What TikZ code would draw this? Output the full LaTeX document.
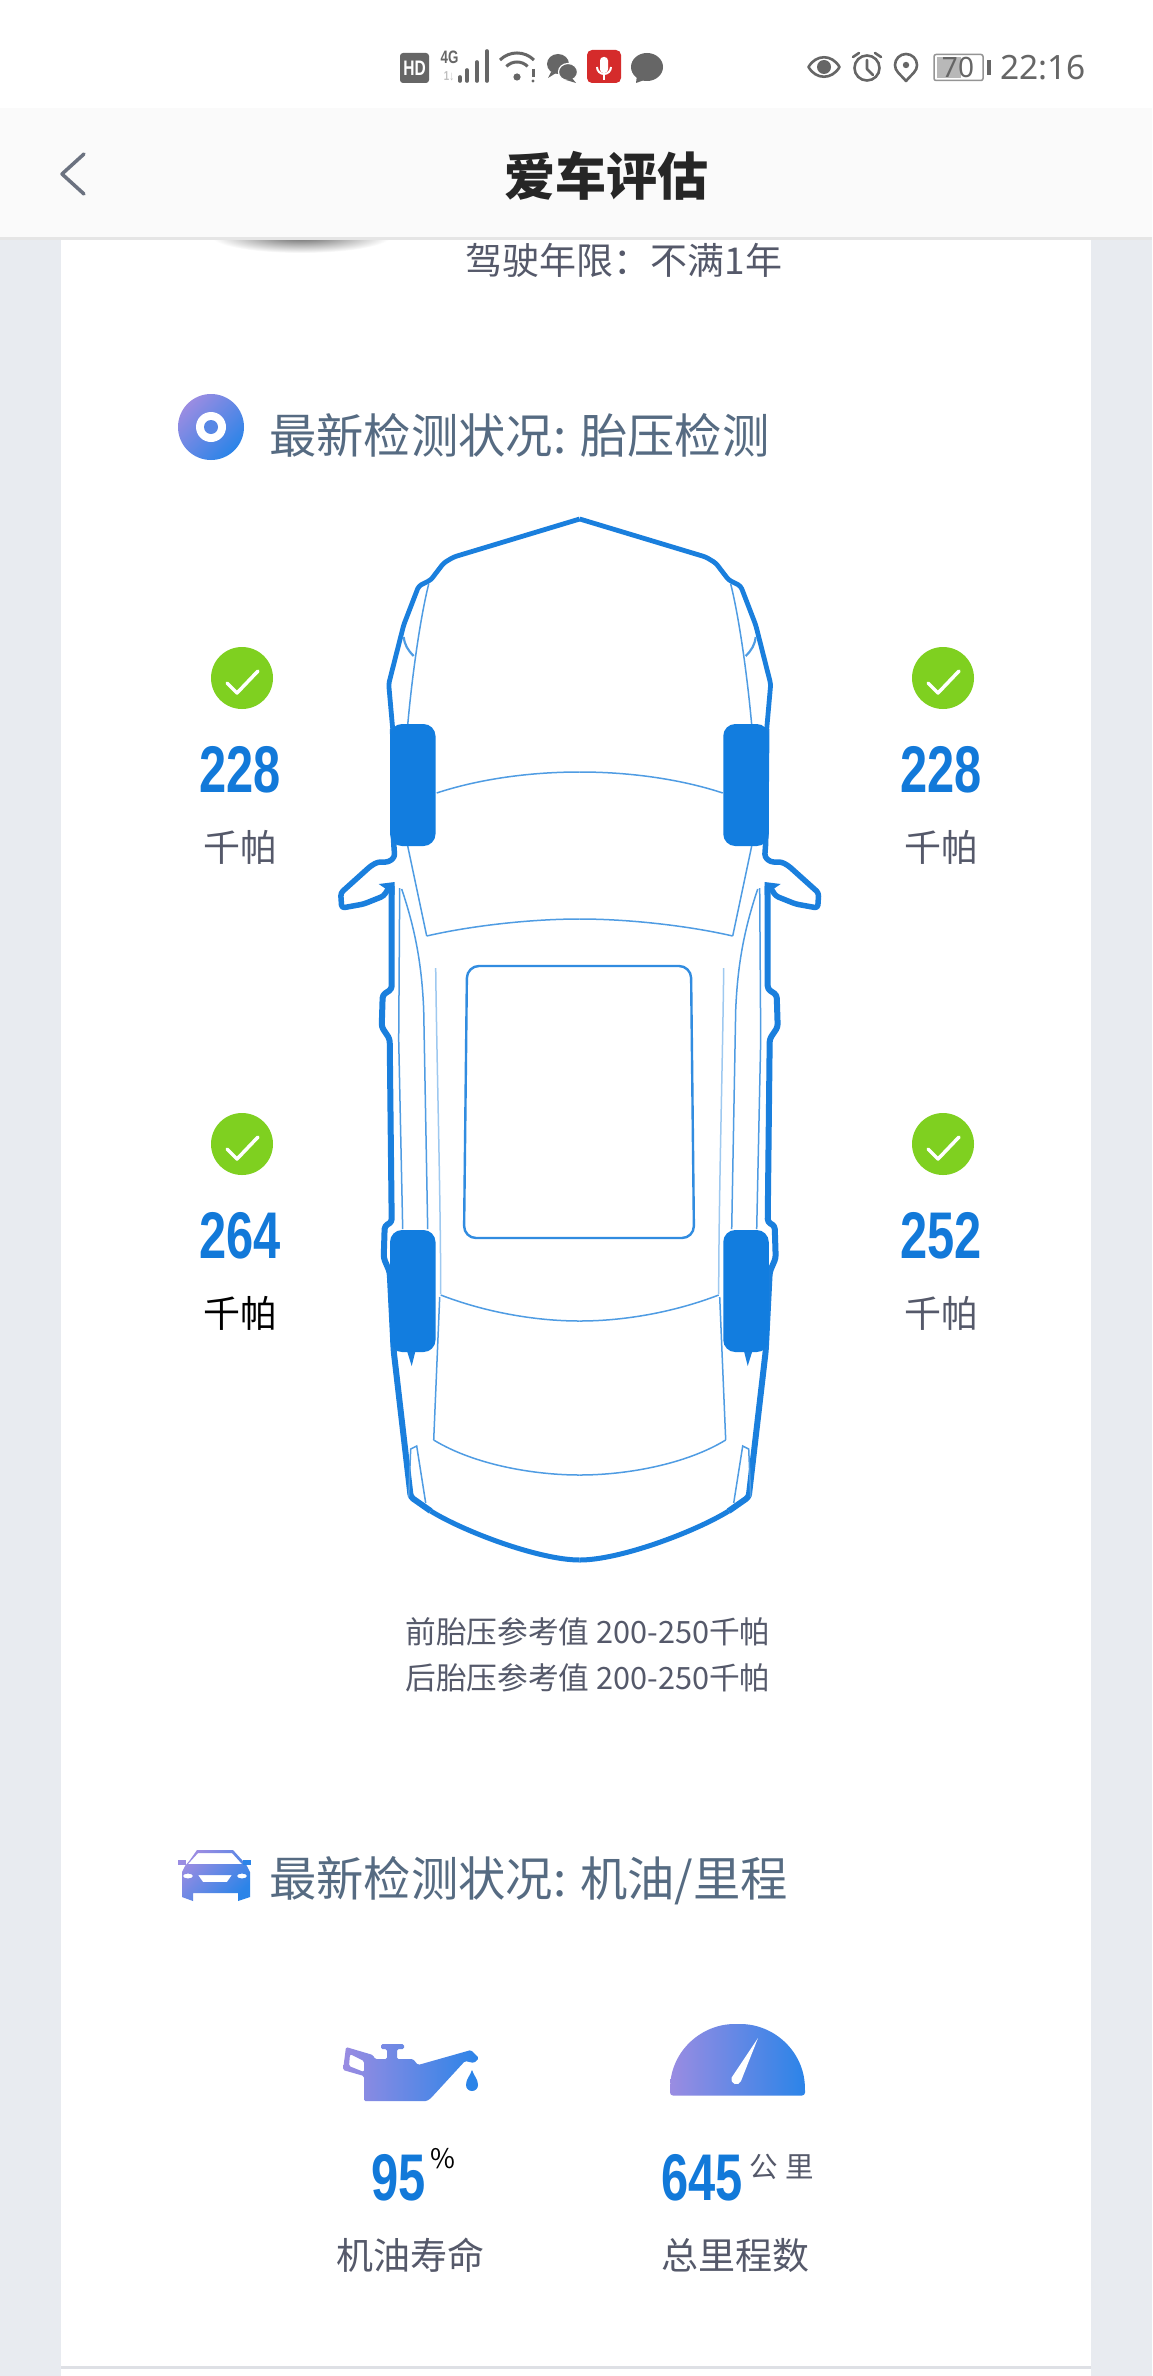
\documentclass[tikz,border=0pt]{standalone}
\usepackage{fontspec}
\setmainfont{Noto Sans CJK SC}
\newfontfamily\numfont[FakeStretch=0.74]{Liberation Sans}
\newfontfamily\barfont{Noto Sans}
\usetikzlibrary{shapes.geometric, positioning, calc}
\newcommand{\fsize}[1]{\fontsize{#1}{#1}\selectfont}
\definecolor{pagegray}{HTML}{E8EBF0}
\definecolor{navfill}{HTML}{FAFAFA}
\definecolor{carblue}{HTML}{1A7FDD}
\definecolor{tyreblue}{HTML}{127DDF}
\definecolor{thinblue}{HTML}{4F9CE3}
\definecolor{numblue}{HTML}{1279D9}
\definecolor{headgray}{HTML}{566B82}
\definecolor{textgray}{HTML}{55596A}
\definecolor{okgreen}{HTML}{7FD020}
\definecolor{gradA}{HTML}{9A8CE2}
\definecolor{gradB}{HTML}{2B84E8}
\definecolor{iconrgray}{HTML}{666666}
\definecolor{backgray}{HTML}{6B7280}
\definecolor{micred}{HTML}{D52B2B}

\begin{document}
\begin{tikzpicture}[x=1pt,y=-1pt,
        % Define node styles
        sectitle/.style={anchor=west, inner sep=0pt, text=headgray, font=\fsize{47.3}},
        plaintext/.style={inner sep=0pt, text=textgray, font=\fsize{37}},
        noteline/.style={inner sep=0pt, text=textgray, font=\fsize{30.7}},
        tireval/.style={inner sep=0pt, text=numblue, font=\numfont\bfseries\fsize{66}},
        tireunit/.style={inner sep=0pt, font=\fsize{37}},
        okdot/.style={circle, fill=okgreen, minimum size=62pt, inner sep=0pt},
        okmark/.style={draw=white, line width=3.5pt, line cap=round, line join=round},
        tyre/.style={rectangle, fill=tyreblue, rounded corners=12pt, minimum width=45.5pt, minimum height=122pt, inner sep=0pt},
        outline/.style={draw=carblue, line join=round, rounded corners=3pt},
        thinline/.style={draw=thinblue, line width=1.5pt},
        paleline/.style={draw=thinblue!55, line width=1.5pt},
        gradfill/.style={left color=gradA, right color=gradB},
        iconfill/.style={fill=iconrgray},
        iconline/.style={draw=iconrgray, line width=2.6pt}
    ]
    \useasboundingbox (0,0) rectangle (1152,2376);

    % Page background
    \fill[white] (0,0) rectangle (1152,2376);
    \fill[pagegray] (0,238) rectangle (1152,2376);
    \fill[white] (61,238) rectangle (1091,2376);
    \fill[pagegray!90!gray] (61,2366) rectangle (1091,2369);

    % Shadow under the navigation bar
    \shade[inner color=black!62, outer color=white] (301,236) ellipse (90 and 17);

    % Navigation bar
    \fill[navfill] (0,108) rectangle (1152,237);
    \fill[black!10] (0,237) rectangle (1152,240);
    \draw[draw=backgray, line width=3.5pt, line cap=round, line join=round] (84,154) -- (62,174) -- (84,194);
    \node[inner sep=0pt, text=black!85, font=\bfseries\fsize{51}] (title) at (606,176) {爱车评估};

    % Status bar, left group
    \fill[iconfill, rounded corners=3pt] (400,53) rectangle (429,83);
    \node[inner sep=0pt, text=white, font=\numfont\bfseries\fsize{21}] (hd) at (414.5,68) {HD};
    \node[inner sep=0pt, text=iconrgray, font=\numfont\bfseries\fsize{18}] (fourg) at (449.5,57) {4G};
    \node[inner sep=0pt, text=black!25, font=\numfont\bfseries\fsize{13}] (onedown) at (449,76) {1↓};
    \foreach \bx/\by in {460/77, 467/70, 477/62, 487/51}
        \draw[draw=iconrgray, line width=3.6pt, line cap=round] (\bx,\by) -- (\bx,81);
    \fill[iconfill] (517,77) circle (3.6);
    \draw[iconline, line width=3pt] (500,60) arc[start angle=-135, end angle=-45, radius=24];
    \draw[iconline, line width=3pt] (506.4,66.4) arc[start angle=-135, end angle=-45, radius=15];
    \draw[draw=iconrgray, line width=3pt] (533,69) -- (533,77);
    \fill[iconfill] (533,81) circle (1.6);
    \fill[iconfill] (558,64) ellipse (11 and 10);
    \fill[iconfill] (551,72) -- (548,78) -- (556,73) -- cycle;
    \filldraw[draw=white, fill=iconrgray, line width=1.2pt] (568,72) ellipse (9.5 and 8.5);
    \fill[iconfill] (572,78) -- (576,83) -- (566,80) -- cycle;
    \fill[micred, rounded corners=5pt] (587,50) rectangle (621,83);
    \fill[white, rounded corners=3.5pt] (600,57) rectangle (608,73);
    \draw[draw=white, line width=2pt] (597,67) arc[start angle=180, end angle=0, radius=7];
    \draw[draw=white, line width=2pt] (604,74) -- (604,80);
    \fill[iconfill] (647,67) ellipse (16 and 14);
    \fill[iconfill] (637,75) -- (636,83) -- (647,79) -- cycle;

    % Status bar, right group
    \draw[iconline, line join=round] (808.5,67) .. controls (816,54) and (832,54) .. (839.5,67) .. controls (832,80) and (816,80) .. cycle;
    \fill[iconfill] (824,67) circle (7);
    \draw[iconline] (867,68) circle (12.5);
    \draw[iconline, line cap=round, line join=round] (867,60) -- (867,69) -- (873,75);
    \draw[iconline, line cap=round] (853,57) -- (859,53);
    \draw[iconline, line cap=round] (881,57) -- (875,53);
    \draw[iconline, line join=round] (906,81) .. controls (899,73) and (895,71) .. (895,65) arc[start angle=180, end angle=360, radius=11] .. controls (917,71) and (913,73) .. (906,81) -- cycle;
    \fill[iconfill] (906,65) circle (3.2);
    \fill[black!28] (937,57) rectangle (961,78);
    \draw[draw=iconrgray!70, line width=1.5pt, rounded corners=2pt] (934,54.5) rectangle (983,80.5);
    \fill[iconfill] (987,60) rectangle (991,75);
    \node[inner sep=0pt, text=iconrgray, font=\barfont\fsize{28}] (batt) at (958,67) {70};
    \node[inner sep=0pt, text=iconrgray, font=\barfont\fsize{33.5}] (clock) at (1043,68) {22:16};

    % Driver line
    \node[plaintext] (years) at (624,260) {驾驶年限：不满1年};

    % Section title, tyre pressure
    \shade[gradfill, shading angle=45] (211,427) circle (33);
    \fill[white] (211,427) circle (15);
    \fill[gradB!60!gradA] (211,427) circle (7);
    \node[sectitle] (sectyre) at (269,435) {最新检测状况: 胎压检测};

    % Car body, both halves mirrored about the centre line
    \foreach \s in {1,-1} {
        \begin{scope}[shift={(579.7,0)}, xscale=\s]
            % Outer shell
            \draw[outline, line width=4.8pt] (0,519) -- (-126,557) -- (-136,563) -- (-149,580) -- (-161,586) -- (-176,625) -- (-191,684) -- (-187,729);
            \draw[outline, line width=5.5pt] (-187,729) -- (-186,843) -- (-185,857) -- (-191,862) -- (-202,862) -- (-209,866) -- (-239,893) -- (-238,908) -- (-216,904) -- (-196,896) -- (-191,888);
            \fill[carblue] (-201,884) -- (-185,882) -- (-185,895) -- cycle;
            \draw[outline, line width=6pt] (-188,886) -- (-188,989) -- (-197,995) -- (-198,1027) -- (-190,1039) -- (-188,1222) -- (-195,1226) -- (-196,1258) -- (-190,1272) -- (-186,1351) -- (-169,1497) -- (-149,1511);
            \draw[draw=carblue, line width=5pt] (-149,1511) .. controls (-115,1532) and (-40,1560) .. (0,1560);
            % Front lines
            \draw[thinline] (-151,584) .. controls (-160,620) and (-168,680) .. (-172,725);
            \draw[thinline, line width=2.2pt] (-176,637) .. controls (-175,645) and (-172,650) .. (-166,656);
            \draw[thinline] (0,772) .. controls (-60,772) and (-110,782) .. (-143,793);
            \draw[thinline] (-172,846) -- (-153,936);
            \draw[thinline] (-153,936) .. controls (-110,926) and (-50,919) .. (0,919);
            % Side lines
            \draw[thinline] (-180,888) -- (-181,1040) -- (-177,1229);
            \draw[thinline] (-178,889) .. controls (-166,925) and (-158,960) .. (-156,1010) -- (-152,1229);
            \draw[paleline] (-144,968) .. controls (-143,1060) and (-139,1200) .. (-139,1294);
            % Rear lines
            \draw[thinline] (-139,1295) .. controls (-95,1312) and (-45,1321) .. (0,1321);
            \draw[thinline] (-140,1297) -- (-146,1440);
            \draw[thinline] (-146,1440) .. controls (-105,1465) and (-45,1475) .. (0,1475);
            \draw[thinline] (-171,1497) -- (-169,1449) -- (-163,1446) -- (-154,1503);
            \fill[carblue] (-173,1350) -- (-168,1366) -- (-164,1350) -- cycle;
        \end{scope}
    }

    % Sunroof
    \draw[draw=carblue!90, line width=2.4pt, rounded corners=12pt] (467,966) -- (691,966) -- (694,1238) -- (464,1238) -- cycle;

    % Tyres
    \node[tyre] (tirefl) at (412.75,785) {};
    \node[tyre] (tirefr) at (746,785) {};
    \node[tyre] (tirerl) at (412.75,1291) {};
    \node[tyre] (tirerr) at (746,1291) {};

    % Pressure readings
    \foreach \cx/\cy/\val/\nm/\tone in {
        242/678/228/fl/textgray, 943/678/228/fr/textgray,
        242/1144/264/rl/black, 943/1144/252/rr/textgray} {
        \node[okdot] (chk\nm) at (\cx,\cy) {};
        \draw[okmark] (\cx-15,\cy+5) -- ++(10,10) -- ++(21,-22);
        \node[tireval] (val\nm) at (\cx-2,\cy+92) {\val};
        \node[tireunit, text=\tone] (unit\nm) at (\cx-2,\cy+169) {千帕};
    }

    % Reference values
    \node[noteline] (notefront) at (588,1632) {前胎压参考值 200-250千帕};
    \node[noteline] (noterear) at (588,1678) {后胎压参考值 200-250千帕};

    % Section title, oil and mileage
    \shade[gradfill, shading angle=45, even odd rule]
        (197,1850) -- (233,1850) -- (242,1860) -- (247,1866) -- (250,1872) -- (250,1897) -- (238,1901) -- (238,1893) -- (193,1893) -- (193,1901) -- (182,1897) -- (182,1872) -- (185,1866) -- (190,1860) -- cycle
        (198,1853) -- (232,1853) -- (242,1864) -- (188,1864) -- cycle
        (198,1875) -- (232,1875) -- (227,1882) -- (203,1882) -- cycle
        (188,1876) ellipse (5 and 2.5)
        (242,1876) ellipse (5 and 2.5);
    \fill[gradA] (178,1860) rectangle (186,1865);
    \fill[gradB] (243,1860) rectangle (251,1865);
    \node[sectitle] (secoil) at (269,1881) {最新检测状况: 机油/里程};

    % Oil can
    \shade[gradfill, even odd rule, rounded corners=1.5pt]
        (364,2101) -- (364,2076) -- (343,2070) -- (346,2047) -- (373,2055) -- (375,2059) -- (387,2059) -- (387,2049) -- (381,2049) -- (381,2044) -- (404,2044) -- (404,2049) -- (397,2049) -- (397,2059) -- (413,2059) -- (418,2065) -- (471,2050) -- (479,2058) -- (474,2063) -- (465,2061) -- (431,2098) -- (427,2101) -- cycle
        (350,2054) -- (349,2066) -- (364,2072) -- (364,2061) -- cycle;
    \fill[gradB] (472,2070) .. controls (474,2076) and (478,2079) .. (478,2085) arc[start angle=0, end angle=180, radius=6] .. controls (466,2079) and (470,2076) .. (472,2070) -- cycle;

    % Mileage gauge
    \shade[gradfill, rounded corners=3pt] (670,2095.5) -- (670,2088) .. controls (672,2050) and (702,2024) .. (737.5,2024) .. controls (773,2024) and (803,2050) .. (805,2088) -- (805,2095.5) -- cycle;
    \fill[white] (758,2038) -- (741,2081) arc[start angle=20, end angle=200, radius=5] -- cycle;

    % Oil and mileage values
    \node[tireval] (valoil) at (399,2178) {95};
    \node[inner sep=0pt, font=\fsize{27}] (pct) at (443,2159) {\%};
    \node[plaintext] (oillife) at (410,2255) {机油寿命};
    \node[tireval] (valkm) at (702,2178) {645};
    \node[inner sep=0pt, text=textgray, font=\fsize{28.5}] (km) at (782,2167) {公\hspace{8pt}里};
    \node[plaintext] (totalkm) at (735,2255) {总里程数};
\end{tikzpicture}
\end{document}
